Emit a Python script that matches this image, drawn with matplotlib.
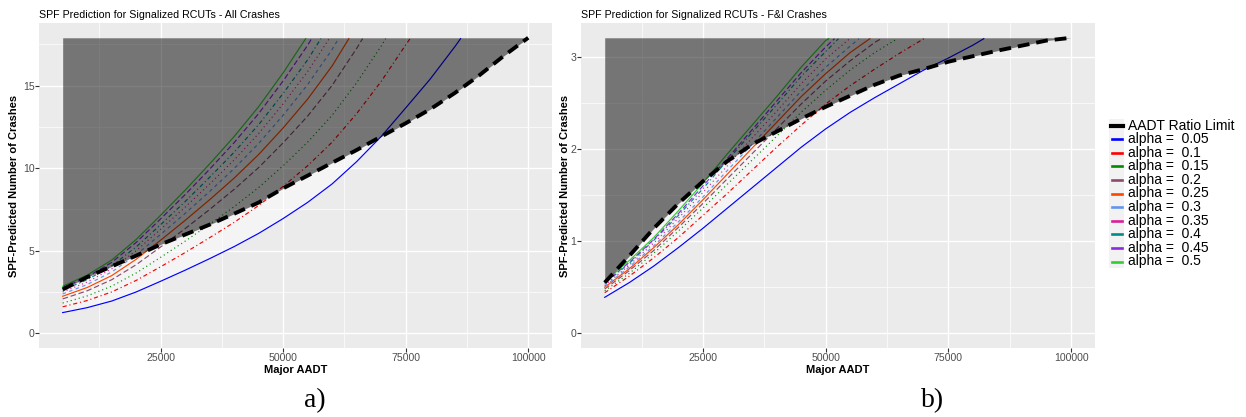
import numpy as np
import matplotlib
matplotlib.use("Agg")
import matplotlib.pyplot as plt
from matplotlib.lines import Line2D
from matplotlib.patches import Rectangle

plt.rcParams['font.family'] = ['Liberation Sans', 'DejaVu Sans']
plt.rcParams['lines.scale_dashes'] = False

# ---------------- data ----------------
ALPHA_LABELS = ["0.05", "0.1", "0.15", "0.2", "0.25", "0.3", "0.35", "0.4", "0.45", "0.5"]

# Panel a) All crashes
LIMIT_X_A = [5000, 10000, 15000, 20000, 25000, 30000, 35000, 40000, 45000, 50000,
             55000, 60000, 65000, 70000, 75000, 80000, 85000, 90000, 95000, 100000]
LIMIT_Y_A = [2.65, 3.40, 4.05, 4.70, 5.38, 5.98, 6.58, 7.24, 7.92, 8.78,
             9.55, 10.33, 11.10, 11.92, 12.72, 13.57, 14.55, 15.62, 16.80, 17.90]
GRID_X_A = [5000, 10000, 15000, 20000, 25000, 30000, 35000, 40000, 45000,
            50000, 55000, 60000, 65000, 70000, 75000, 80000, 85000]
A_005 = [1.25, 1.55, 1.95, 2.50, 3.15, 3.82, 4.52, 5.25, 6.05, 6.95, 7.93, 9.05, 10.40, 11.92, 13.65, 15.40, 17.35]
A_010 = [1.60, 1.98, 2.50, 3.20, 4.03, 4.89, 5.79, 6.72, 7.74, 8.90, 10.15, 11.58, 13.31, 15.26, 17.47]
A_015 = [1.83, 2.26, 2.85, 3.65, 4.60, 5.58, 6.60, 7.67, 8.83, 10.15, 11.58, 13.21, 15.18, 17.40]
A_020 = [2.08, 2.57, 3.24, 4.15, 5.23, 6.34, 7.50, 8.72, 10.04, 11.54, 13.16, 15.02, 17.26]
A_025 = [2.24, 2.77, 3.49, 4.48, 5.64, 6.84, 8.09, 9.40, 10.83, 12.44, 14.19, 16.20]
A_030 = [2.38, 2.95, 3.71, 4.75, 5.99, 7.26, 8.59, 9.98, 11.50, 13.21, 15.07, 17.20]
A_035 = [2.50, 3.10, 3.90, 5.00, 6.30, 7.64, 9.04, 10.50, 12.10, 13.90, 15.86]
A_040 = [2.61, 3.24, 4.08, 5.23, 6.58, 7.98, 9.45, 10.97, 12.64, 14.53, 16.57]
A_045 = [2.75, 3.41, 4.29, 5.50, 6.93, 8.40, 9.94, 11.55, 13.31, 15.29, 17.45]
A_050 = [2.84, 3.52, 4.43, 5.68, 7.15, 8.67, 10.26, 11.92, 13.73, 15.78]
END_X_A = [86200, 75900, 70900, 66200, 63400, 61300, 59400, 57700, 55800, 54600]
TOP_A = 17.85
SHADE_TOP_A = 17.90

# Panel b) F&I crashes
LIMIT_X_B = LIMIT_X_A
LIMIT_Y_B = [0.55, 0.84, 1.14, 1.41, 1.65, 1.87, 2.05, 2.19, 2.33, 2.46,
             2.58, 2.70, 2.80, 2.87, 2.95, 3.01, 3.07, 3.125, 3.18, 3.21]
GRID_X_B = [5000, 10000, 15000, 20000, 25000, 30000, 35000, 40000,
            45000, 50000, 55000, 60000, 65000, 70000, 75000, 80000]
B_005 = [0.39, 0.55, 0.73, 0.93, 1.14, 1.36, 1.58, 1.80, 2.02, 2.22, 2.40, 2.56, 2.71, 2.86, 2.99, 3.13]
B_010 = [0.44, 0.62, 0.82, 1.04, 1.28, 1.52, 1.77, 2.02, 2.26, 2.49, 2.69, 2.87, 3.04]
B_015 = [0.46, 0.65, 0.87, 1.11, 1.36, 1.62, 1.88, 2.14, 2.40, 2.64, 2.86, 3.05]
B_020 = [0.48, 0.68, 0.90, 1.15, 1.41, 1.68, 1.95, 2.22, 2.49, 2.74, 2.96, 3.16]
B_025 = [0.50, 0.70, 0.93, 1.18, 1.45, 1.73, 2.01, 2.29, 2.57, 2.82, 3.05]
B_030 = [0.51, 0.72, 0.95, 1.21, 1.48, 1.77, 2.05, 2.34, 2.63, 2.89, 3.12]
B_035 = [0.52, 0.74, 0.98, 1.25, 1.53, 1.82, 2.12, 2.41, 2.71, 2.98]
B_040 = [0.54, 0.76, 1.01, 1.28, 1.57, 1.88, 2.18, 2.48, 2.79, 3.06]
B_045 = [0.55, 0.77, 1.02, 1.30, 1.60, 1.90, 2.21, 2.52, 2.83, 3.11]
B_050 = [0.56, 0.79, 1.04, 1.33, 1.63, 1.95, 2.26, 2.57, 2.89, 3.18]
END_X_B = [82200, 70000, 64600, 61300, 59000, 56800, 54900, 52600, 51800, 50600]
TOP_B = 3.20
SHADE_TOP_B = 3.21

X_TICKS = [25000, 50000, 75000, 100000]
X_TICK_LABELS = ["25000", "50000", "75000", "100000"]
Y_TICKS_A = [0, 5, 10, 15]
Y_TICKS_B = [0, 1, 2, 3]

# ---------------- styles ----------------
COLORS = ["#0000FF", "#FF0000", "#008B00", "#8B4C6E", "#FF4500",
          "#6495ED", "#D9209A", "#008B8B", "#8A2BE2", "#32CD32"]
STYLES = ["-", (0, (3.0, 2.0, 0.8, 2.0)), (0, (0.8, 2.2)), (0, (4.0, 2.0)), "-",
          (0, (2.5, 2.5)), (0, (0.8, 2.2)), (0, (3.0, 2.0, 0.8, 2.0)), (0, (4.0, 2.0)), "-"]

W, H = 1246, 417
fig = plt.figure(figsize=(W / 100, H / 100), dpi=100)


def px_axes(l, t, r, b):
    return fig.add_axes([l / W, 1 - b / H, (r - l) / W, (b - t) / H])


def style_axes(ax, yticks, yminor, ylim):
    ax.set_facecolor("#EBEBEB")
    for s in ax.spines.values():
        s.set_visible(False)
    ax.set_xlim(250, 104750)
    ax.set_ylim(*ylim)
    ax.set_xticks(X_TICKS)
    ax.set_xticklabels(X_TICK_LABELS)
    ax.set_xticks([12500, 37500, 62500, 87500], minor=True)
    ax.set_yticks(yticks)
    ax.set_yticks(yminor, minor=True)
    ax.tick_params(which="major", length=2.75, width=0.8, color="#333333",
                   labelcolor="#4D4D4D", labelsize=7.6, pad=0.8)
    ax.tick_params(which="minor", length=0)
    ax.grid(which="major", color="white", lw=1.0)
    ax.grid(which="minor", color="white", lw=0.5)
    ax.set_axisbelow(True)


def draw_panel(ax, grid_x, series, end_x, top, lim_x, lim_y, shade_top):
    # light ribbon between lowest curve and the limit
    base = np.array(series[0], dtype=float)
    gx = np.array(grid_x[:len(base)], dtype=float)
    lim_at = np.interp(gx, lim_x, lim_y)
    ax.fill_between(gx, base, lim_at, where=lim_at > base, interpolate=True,
                    color="white", alpha=0.45, lw=0, zorder=1.5)
    for i, ys in enumerate(series):
        xs = list(grid_x[:len(ys)]) + [end_x[i]]
        yv = list(ys) + [top]
        ax.plot(xs, yv, color=COLORS[i], linestyle=STYLES[i], lw=0.85, zorder=2)
    ax.fill_between(lim_x, lim_y, shade_top, color="black", alpha=0.5, lw=0, zorder=3)
    ax.plot(lim_x, lim_y, color="black", lw=2.8, linestyle=(0, (8.5, 5.0)), zorder=4)


axA = px_axes(39.4, 23, 551.5, 348)
axB = px_axes(581.4, 23, 1094.5, 348)
style_axes(axA, Y_TICKS_A, [2.5, 7.5, 12.5, 17.5], (-0.895, 18.795))
style_axes(axB, Y_TICKS_B, [0.5, 1.5, 2.5], (-0.1605, 3.3705))

draw_panel(axA, GRID_X_A, [A_005, A_010, A_015, A_020, A_025, A_030, A_035, A_040, A_045, A_050],
           END_X_A, TOP_A, LIMIT_X_A, LIMIT_Y_A, SHADE_TOP_A)
draw_panel(axB, GRID_X_B, [B_005, B_010, B_015, B_020, B_025, B_030, B_035, B_040, B_045, B_050],
           END_X_B, TOP_B, LIMIT_X_B, LIMIT_Y_B, SHADE_TOP_B)

# titles and labels
fig.text(39.4 / W, 1 - 15 / H, "SPF Prediction for Signalized RCUTs - All Crashes",
         fontsize=7.7, ha="left", va="center")
fig.text(581.4 / W, 1 - 15 / H, "SPF Prediction for Signalized RCUTs - F&I Crashes",
         fontsize=7.7, ha="left", va="center")
for xc in (14, 565):
    fig.text(xc / W, 1 - 185.5 / H, "SPF-Predicted Number of Crashes", rotation=90,
             fontsize=8.0, fontweight="bold", ha="center", va="center")
for xc in ((39.4 + 551.5) / 2, (581.4 + 1094.5) / 2):
    fig.text(xc / W, 1 - 370 / H, "Major AADT", fontsize=8.0, fontweight="bold",
             ha="center", va="center")
fig.text(315 / W, 1 - 401 / H, "a)", fontsize=20, family="Liberation Serif",
         ha="center", va="center")
fig.text(933 / W, 1 - 401 / H, "b)", fontsize=20, family="Liberation Serif",
         ha="center", va="center")

# legend (drawn manually)
row0, pitch = 125.5, 13.6
fig.patches.append(Rectangle((1109 / W, 1 - (row0 + 10.5 * pitch) / H), 15 / W,
                             (11 * pitch) / H, transform=fig.transFigure,
                             facecolor="#F2F2F2", edgecolor="none", zorder=0))
labels = ["AADT Ratio Limit"] + ["alpha =  " + a for a in ALPHA_LABELS]
for i, lab in enumerate(labels):
    yy = 1 - (row0 + i * pitch) / H
    if i == 0:
        ln = Line2D([1110.5 / W, 1122.5 / W], [yy, yy], transform=fig.transFigure,
                    color="black", lw=3.0)
    else:
        ln = Line2D([1111.7 / W, 1121.7 / W], [yy, yy], transform=fig.transFigure,
                    color=COLORS[i - 1], lw=1.9)
    fig.lines.append(ln)
    fig.text(1128.3 / W, yy, lab, fontsize=10, ha="left", va="center")

fig.savefig("out.png", dpi=100)
